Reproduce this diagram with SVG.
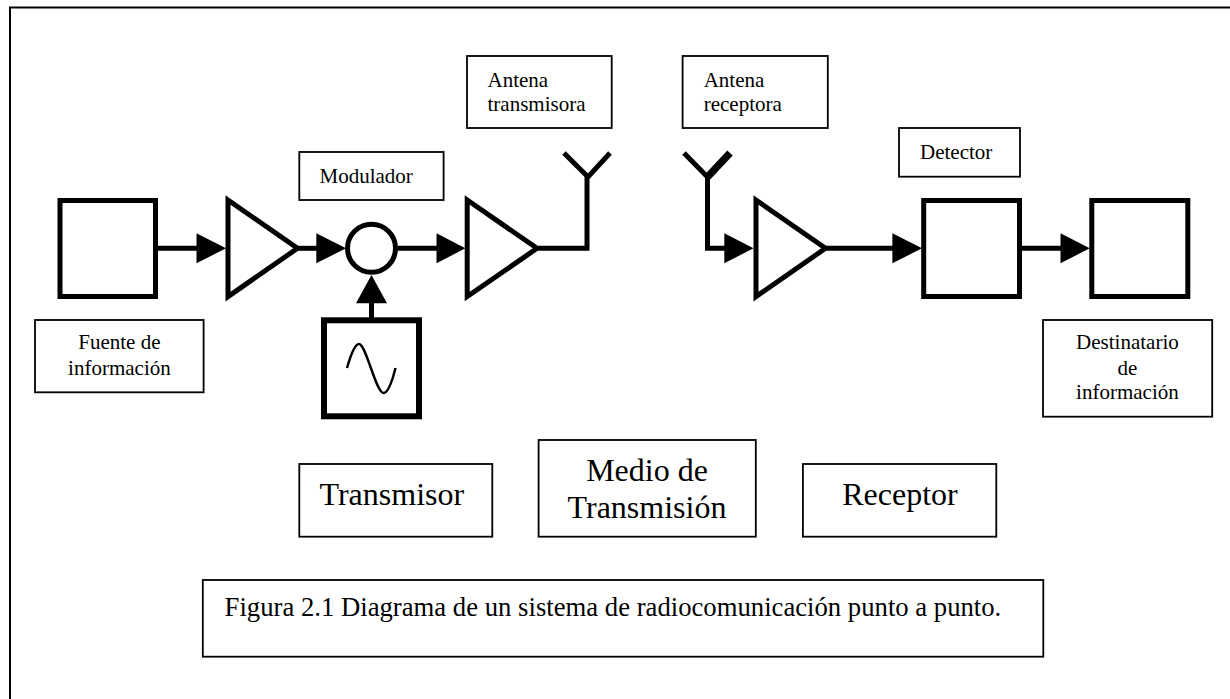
<svg xmlns="http://www.w3.org/2000/svg" width="1230" height="699" viewBox="0 0 1230 699">
<style>
text{font-family:"Liberation Serif","Times New Roman",serif;fill:#000;font-size:21px}
.big{font-size:32px}
.cap{font-size:26.7px}
.c{text-anchor:middle}
.lbl{fill:#fff;stroke:#000;stroke-width:1.8}
.blk{fill:#fff;stroke:#000;stroke-width:5}
.wire{fill:none;stroke:#000;stroke-width:5}
.arr{fill:#000;stroke:none}
</style>
<rect width="1230" height="699" fill="#fff"/>
<path id="frame" d="M10 699V7.5H1230" fill="none" stroke="#000" stroke-width="2"/>
<g id="connectors">
<path class="wire" d="M158 248.3H200"/>
<path class="arr" d="M196.5 233.3L226 248.3L196.5 263.3Z"/>
<path class="wire" d="M298 248.3H320"/>
<path class="arr" d="M316.3 233.3L346 248.3L316.3 263.3Z"/>
<path class="wire" d="M398 248.3H440"/>
<path class="arr" d="M436.5 233.3L465.4 248.3L436.5 263.3Z"/>
<path class="wire" d="M538 248.3H587V176"/>
<path class="wire" d="M564 153L588 177L610 153"/>
<path class="wire" d="M371.5 318V300"/>
<path class="arr" d="M371.5 275L387 303.3H356Z"/>
<path class="wire" d="M684 153L707.5 177"/>
<path d="M707.5 177L730 153" fill="none" stroke="#000" stroke-width="7.5"/>
<path class="wire" d="M707.5 176V248.3H728"/>
<path class="arr" d="M724.3 233.3L753.5 248.3L724.3 263.3Z"/>
<path class="wire" d="M826 248.3H896"/>
<path class="arr" d="M892.4 233.3L922 248.3L892.4 263.3Z"/>
<path class="wire" d="M1022 248.3H1064"/>
<path class="arr" d="M1060.5 233.3L1089.7 248.3L1060.5 263.3Z"/>
</g>
<g id="fuente"><rect class="blk" x="60" y="200.5" width="95.5" height="96"/></g>
<g id="amp1"><path class="blk" d="M228 200L297.5 248.3L228 296.6Z"/></g>
<g id="mixer"><circle class="blk" cx="371.5" cy="248.3" r="24"/></g>
<g id="amp2"><path class="blk" d="M467.2 200L537 248.3L467.2 296.6Z"/></g>
<g id="oscilador"><rect x="324" y="320.3" width="95" height="96" fill="#fff" stroke="#000" stroke-width="6"/><path d="M347 368C351 354 355 344 359 344C366 344 376 393 383.5 393C388 393 392 382 395.5 368" fill="none" stroke="#000" stroke-width="2.5"/></g>
<g id="amp3"><path class="blk" d="M756 200L825.5 248.3L756 296.6Z"/></g>
<g id="detector"><rect class="blk" x="923.7" y="200.5" width="95.8" height="96"/></g>
<g id="destino"><rect class="blk" x="1091.8" y="200.5" width="96" height="96"/></g>
<g id="lbl-fuente"><rect class="lbl" x="35" y="320" width="168.6" height="72.3"/><text class="c" x="119.4" y="349.3">Fuente de</text><text class="c" x="119.4" y="375">información</text></g>
<g id="lbl-modulador"><rect class="lbl" x="299.3" y="152" width="144.3" height="48"/><text x="319.5" y="182.7">Modulador</text></g>
<g id="lbl-antena-tx"><rect class="lbl" x="467" y="56" width="144.7" height="72"/><text x="487.5" y="87.3">Antena</text><text x="487.5" y="111">transmisora</text></g>
<g id="lbl-antena-rx"><rect class="lbl" x="682.6" y="56" width="145.2" height="72"/><text x="703.7" y="87.3">Antena</text><text x="703.7" y="111">receptora</text></g>
<g id="lbl-detector"><rect class="lbl" x="899" y="128" width="121" height="48.7"/><text x="920" y="158.7">Detector</text></g>
<g id="lbl-destino"><rect class="lbl" x="1043" y="320" width="169.2" height="96.7"/><text class="c" x="1127.4" y="349.3">Destinatario</text><text class="c" x="1127.4" y="375">de</text><text class="c" x="1127.4" y="399.3">información</text></g>
<g id="lbl-transmisor"><rect class="lbl" x="299.3" y="464" width="193" height="72.7"/><text class="big" x="319.5" y="505">Transmisor</text></g>
<g id="lbl-medio"><rect class="lbl" x="538.6" y="440" width="217.2" height="96.7"/><text class="big c" x="647" y="481">Medio de</text><text class="big c" x="647" y="518.3">Transmisión</text></g>
<g id="lbl-receptor"><rect class="lbl" x="802.9" y="464" width="193.4" height="72.7"/><text class="big c" x="900" y="505">Receptor</text></g>
<g id="caption"><rect class="lbl" x="202.8" y="580" width="840.5" height="76.7"/><text class="cap" x="224.6" y="616">Figura 2.1 Diagrama de un sistema de radiocomunicación punto a punto.</text></g>
</svg>
